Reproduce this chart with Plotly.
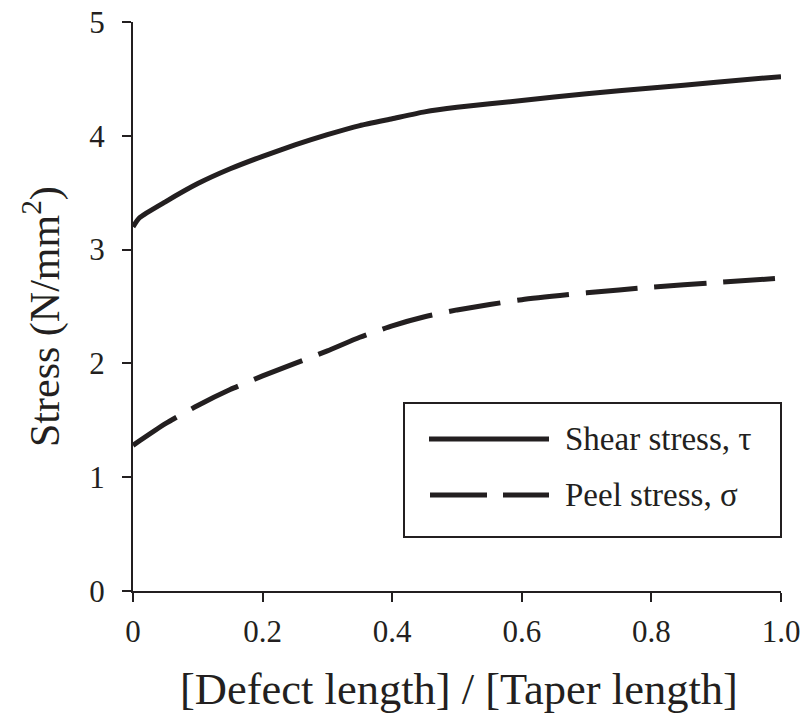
import plotly.graph_objects as go

# ---- data ----
shear_x = [0, 0.01, 0.05, 0.1, 0.15, 0.2, 0.25, 0.3, 0.35, 0.4, 0.45, 0.5, 0.6, 0.7, 0.8, 0.9, 1.0]
shear_y = [3.2, 3.28, 3.42, 3.58, 3.71, 3.82, 3.92, 4.01, 4.09, 4.15, 4.21, 4.25, 4.31, 4.37, 4.42, 4.47, 4.52]

peel_x = [0, 0.05, 0.1, 0.15, 0.2, 0.25, 0.3, 0.35, 0.4, 0.45, 0.5, 0.6, 0.7, 0.8, 0.9, 1.0]
peel_y = [1.28, 1.47, 1.63, 1.77, 1.89, 2.00, 2.11, 2.23, 2.33, 2.41, 2.47, 2.56, 2.62, 2.67, 2.71, 2.75]

x_tickvals = [0, 0.2, 0.4, 0.6, 0.8, 1.0]
x_ticktext = ["0", "0.2", "0.4", "0.6", "0.8", "1.0"]
y_tickvals = [0, 1, 2, 3, 4, 5]
y_ticktext = ["0", "1", "2", "3", "4", "5"]

series_names = ["Shear stress, \u03c4", "Peel stress, \u03c3"]
x_title = "[Defect length] / [Taper length]"
y_title = "Stress (N/mm<sup>2</sup>)"

INK = "#231f20"
FONT = '"Liberation Serif", "Times New Roman", serif'

W, H = 803, 718
L, R, T, B = 133, 22, 22, 127
PW, PH = W - L - R, H - T - B


def px(xp):
    return (xp - L) / PW


def py(yp):
    return (H - B - yp) / PH


fig = go.Figure()
fig.add_trace(go.Scatter(x=shear_x, y=shear_y, mode="lines", name=series_names[0],
                         line=dict(color=INK, width=5, shape="spline", smoothing=0.5),
                         showlegend=False))
fig.add_trace(go.Scatter(x=peel_x, y=peel_y, mode="lines", name=series_names[1],
                         line=dict(color=INK, width=5, dash="52px,17px", shape="spline", smoothing=0.5),
                         showlegend=False))

axis_common = dict(showline=True, linecolor=INK, linewidth=2, ticks="outside",
                   tickcolor=INK, tickwidth=2, ticklen=9, showgrid=False, zeroline=False,
                   automargin=False,
                   tickfont=dict(family=FONT, size=31, color=INK), mirror=False)

fig.update_xaxes(range=[0, 1], tickvals=x_tickvals, ticktext=x_ticktext,
                 ticklabelstandoff=3, **axis_common)
fig.update_yaxes(range=[0, 5], tickvals=y_tickvals, ticktext=y_ticktext,
                 ticklabelstandoff=11, **axis_common)

# legend box (drawn manually)
shapes = [
    dict(type="rect", xref="paper", yref="paper", x0=px(404), x1=px(781), y0=py(537), y1=py(403),
         line=dict(color=INK, width=2), fillcolor="white", layer="above"),
    dict(type="line", xref="paper", yref="paper", x0=px(429), x1=px(549), y0=py(439), y1=py(439),
         line=dict(color=INK, width=5)),
    dict(type="line", xref="paper", yref="paper", x0=px(430), x1=px(549), y0=py(495), y1=py(495),
         line=dict(color=INK, width=5, dash="57px,16px")),
]

annotations = [
    dict(text=series_names[0], xref="paper", yref="paper", x=px(563), y=py(439),
         xanchor="left", yanchor="middle", showarrow=False,
         font=dict(family=FONT, size=33, color=INK)),
    dict(text=series_names[1], xref="paper", yref="paper", x=px(563), y=py(495),
         xanchor="left", yanchor="middle", showarrow=False,
         font=dict(family=FONT, size=33, color=INK)),
    dict(text=x_title, xref="paper", yref="paper", x=px(459), y=py(689),
         xanchor="center", yanchor="middle", showarrow=False,
         font=dict(family=FONT, size=44.5, color=INK)),
    dict(text=y_title, xref="paper", yref="paper", x=px(42), y=py(316),
         xanchor="center", yanchor="middle", showarrow=False, textangle=-90,
         font=dict(family=FONT, size=42, color=INK)),
]

fig.update_layout(width=W, height=H, margin=dict(l=L, r=R, t=T, b=B, pad=0, autoexpand=False),
                  paper_bgcolor="white", plot_bgcolor="white",
                  shapes=shapes, annotations=annotations, showlegend=False,
                  font=dict(family=FONT, color=INK))

fig.write_html("out.html", config={"displayModeBar": False},
               post_script="document.body.style.margin='0';document.body.style.overflow='hidden';")
